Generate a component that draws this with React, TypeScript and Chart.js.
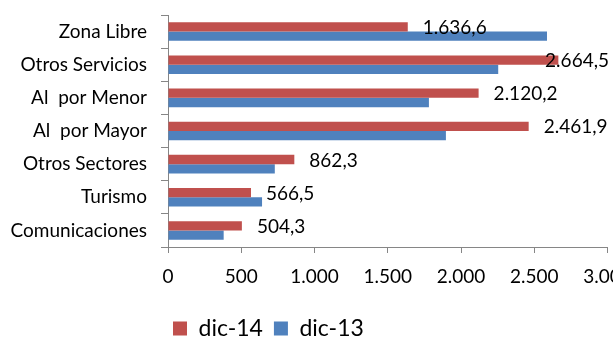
import React, { useEffect, useRef } from 'react';
import { Chart, registerables } from 'chart.js';

Chart.register(...registerables);

const categories = [
  'Zona Libre',
  'Otros Servicios',
  'Al  por Menor',
  'Al  por Mayor',
  'Otros Sectores',
  'Turismo',
  'Comunicaciones',
];
const seriesNames = ['dic-14', 'dic-13'];
const dic14 = [1636.6, 2664.5, 2120.2, 2461.9, 862.3, 566.5, 504.3];
const dic13 = [2587, 2254, 1781, 1897, 729, 642, 380];
const xMin = 0;
const xMax = 3000;
const xStep = 500;

const FONT = 'Lato';
const CW = 700;
const CH = 339;
const PLOT_LEFT = 168;
const PLOT_RIGHT = 607.5;
const PLOT_TOP = 15;
const PLOT_BOTTOM = 247;
const LEGEND_LEFT = 173;
const LEGEND_TOP = 306;
const LEGEND_PAD = 11;

const groupInt = (s: string) => s.replace(/\B(?=(\d{3})+(?!\d))/g, '.');
const fmtInt = (v: number) => groupInt(String(Math.round(v)));
const fmtDec = (v: number) => {
  const [i, d] = v.toFixed(1).split('.');
  return groupInt(i) + ',' + d;
};

const valueLabels = {
  id: 'valueLabels',
  afterDatasetsDraw(chart: any) {
    const meta = chart.getDatasetMeta(0);
    const ctx = chart.ctx;
    ctx.save();
    ctx.font = `19px ${FONT}`;
    ctx.fillStyle = '#000';
    ctx.textAlign = 'left';
    ctx.textBaseline = 'middle';
    meta.data.forEach((bar: any, i: number) => {
      const txt = fmtDec(dic14[i]);
      const w = ctx.measureText(txt).width;
      const x = Math.min(bar.x + 15, chart.chartArea.right + 1.5 - w);
      ctx.fillText(txt, x, bar.y + 1);
    });
    ctx.restore();
  },
};

const legendPlace = {
  id: 'legendPlace',
  afterLayout(chart: any) {
    const lg = chart.legend;
    if (!lg) return;
    const w = lg.right - lg.left;
    const h = lg.bottom - lg.top;
    lg.left = LEGEND_LEFT - LEGEND_PAD;
    lg.right = lg.left + w;
    lg.top = LEGEND_TOP;
    lg.bottom = lg.top + h;
  },
};

export default function App() {
  const ref = useRef<HTMLCanvasElement>(null);
  useEffect(() => {
    const chart = new Chart(ref.current as HTMLCanvasElement, {
      type: 'bar',
      data: {
        labels: categories,
        datasets: [
          {
            label: seriesNames[0],
            data: dic14,
            backgroundColor: '#C0504D',
            categoryPercentage: 0.56,
            barPercentage: 1.0,
          },
          {
            label: seriesNames[1],
            data: dic13,
            backgroundColor: '#4F81BD',
            categoryPercentage: 0.56,
            barPercentage: 1.0,
          },
        ],
      },
      options: {
        indexAxis: 'y',
        animation: false,
        responsive: true,
        maintainAspectRatio: false,
        layout: { padding: { left: 0, right: CW - PLOT_RIGHT, top: PLOT_TOP, bottom: 0 } },
        scales: {
          x: {
            min: xMin,
            max: xMax,
            ticks: {
              stepSize: xStep,
              callback: (v: any) => fmtInt(Number(v)),
              font: { size: 19, family: FONT },
              color: '#000',
              padding: 12,
              maxRotation: 0,
              autoSkip: false,
            },
            grid: { drawOnChartArea: false, tickLength: 6, color: '#868686' },
            border: { color: '#868686' },
            afterFit: (s: any) => {
              const lh = s.chart.legend ? s.chart.legend.height : 0;
              s.height = CH - PLOT_BOTTOM - lh;
              s.paddingLeft = 0;
              s.paddingRight = 0;
            },
          },
          y: {
            ticks: {
              font: { size: 19, family: FONT },
              color: '#000',
              padding: 14,
            },
            grid: { drawOnChartArea: false, tickLength: 7, color: '#868686', offset: true },
            border: { color: '#868686' },
            afterFit: (s: any) => {
              s.width = PLOT_LEFT;
              s.paddingTop = 0;
              s.paddingBottom = 0;
            },
          },
        },
        plugins: {
          legend: {
            position: 'bottom',
            align: 'start',
            labels: {
              font: { size: 23, family: FONT },
              color: '#000',
              boxWidth: 14,
              boxHeight: 14,
              padding: LEGEND_PAD,
            },
          },
          tooltip: { enabled: false },
        },
      } as any,
      plugins: [valueLabels, legendPlace],
    });
    return () => chart.destroy();
  }, []);
  return (
    <div
      style={{
        position: 'fixed',
        left: 0,
        top: 0,
        width: 613,
        height: 339,
        overflow: 'hidden',
        background: '#fff',
      }}
    >
      <div style={{ position: 'relative', width: CW, height: CH }}>
        <canvas ref={ref} />
      </div>
    </div>
  );
}
